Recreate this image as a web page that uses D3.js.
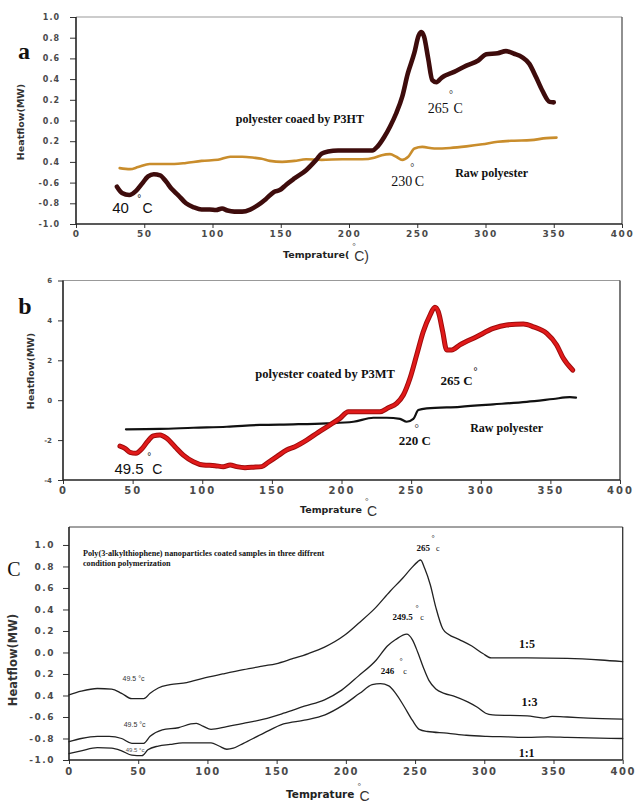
<!DOCTYPE html>
<html>
<head>
<meta charset="utf-8">
<script src="https://cdn.jsdelivr.net/npm/d3@7"></script>
<style>
  body { margin: 0; background: #fff; }
  svg { display: block; }
  .tick text { font-family: "DejaVu Sans", sans-serif; font-weight: bold; fill: #4a4a4a; }
  .serif { font-family: "Liberation Serif", "DejaVu Serif", serif; }
  .sans { font-family: "Liberation Sans", Arial, sans-serif; }
</style>
</head>
<body>
<div class="chart"></div>
<script>
// ---- panel a : P3HT ----
let xTicks = [0, 50, 100, 150, 200, 250, 300, 350, 400];
let xLabels = ['0', '50', '100', '150', '200', '250', '300', '350', '400'];
let aTicks = [1, 0.8, 0.6, 0.4, 0.2, 0, -0.2, -0.4, -0.6, -0.8, -1];
let aLabels = ['1.0', '0.8', '0.6', '0.4', '0.2', '0.0', '0.2', '0.4', '-0.6', '-0.8', '-1.0'];

let aCoated = [[30,-0.64],[33.7,-0.70],[39,-0.72],[44,-0.68],[48.4,-0.61],[52.8,-0.54],[57,-0.52],
  [61.6,-0.53],[66,-0.59],[70,-0.66],[74.8,-0.72],[80.6,-0.80],[86.5,-0.84],[92,-0.86],[98,-0.86],
  [102.6,-0.865],[107,-0.85],[111,-0.87],[116,-0.88],[121.7,-0.88],[127.6,-0.86],[133,-0.82],
  [139,-0.76],[145,-0.69],[149.6,-0.67],[154,-0.62],[160,-0.56],[168.6,-0.48],[176,-0.38],
  [180,-0.32],[184.7,-0.30],[192,-0.29],[201,-0.29],[209.7,-0.29],[217,-0.29],[221,-0.25],
  [225.8,-0.16],[230,-0.06],[234.6,0.07],[239,0.23],[243,0.45],[247.8,0.65],[251,0.82],[253,0.855],
  [255,0.81],[258,0.60],[261,0.39],[264,0.37],[268,0.415],[277,0.47],[286,0.53],[294.7,0.58],
  [300.6,0.64],[309,0.65],[315,0.67],[321,0.645],[327,0.61],[332,0.55],[337,0.42],[341.6,0.29],
  [347,0.18],[350,0.175]];
let aRaw = [[32,-0.46],[39.6,-0.47],[45.5,-0.45],[54,-0.42],[63,-0.42],[72,-0.42],[80.6,-0.41],
  [92,-0.39],[104,-0.38],[113,-0.35],[121.7,-0.35],[130.5,-0.36],[136,-0.37],[142,-0.39],[151,-0.40],
  [160,-0.39],[168.6,-0.375],[180,-0.38],[195,-0.375],[209.7,-0.375],[218.5,-0.36],[224,-0.335],
  [230,-0.325],[234.6,-0.35],[239,-0.38],[243.4,-0.35],[248,-0.27],[253.7,-0.255],[262.5,-0.27],
  [274,-0.265],[286,-0.25],[297.6,-0.23],[309,-0.205],[321,-0.195],[333,-0.19],[344.6,-0.17],
  [352,-0.165]];

// ---- panel b : P3MT ----
let bTicks = [6, 4, 2, 0, -2, -4];
let bLabels = ['6', '4', '2', '0', '-2', '-4'];
let bCoated = [[40.9,-2.30],[44.5,-2.41],[48.1,-2.61],[52.4,-2.66],[56.5,-2.45],[60.6,-2.08],
  [64.9,-1.79],[69.7,-1.74],[74.5,-1.91],[80.4,-2.33],[86.4,-2.75],[93.6,-3.08],[100.8,-3.25],
  [109.2,-3.28],[115.1,-3.33],[120,-3.25],[124.7,-3.33],[130.7,-3.38],[136.7,-3.36],[142.7,-3.33],
  [147.5,-3.11],[153.5,-2.83],[160.6,-2.50],[166.6,-2.33],[175,-2.0],[183.3,-1.61],[191.7,-1.24],
  [198.9,-0.91],[204.9,-0.58],[213.3,-0.58],[227.6,-0.58],[233.6,-0.38],[239.6,-0.16],[244.4,0.26],
  [249.2,1.10],[254,2.27],[258.7,3.43],[263.6,4.27],[267.1,4.66],[269.5,4.44],[272.7,3.43],
  [275.5,2.52],[279.1,2.52],[285,2.77],[297,3.18],[309,3.60],[318.6,3.77],[330.6,3.82],[337.8,3.68],
  [347.4,3.35],[354.5,2.77],[359.3,2.10],[366,1.51]];
let bRaw = [[45.2,-1.46],[69.7,-1.44],[93.6,-1.38],[117.6,-1.33],[141.5,-1.24],[165.4,-1.21],
  [189.4,-1.16],[208.5,-1.08],[222.9,-0.88],[232.5,-0.88],[242,-0.94],[246.8,-1.08],[251.6,-0.94],
  [255.2,-0.49],[261.2,-0.41],[285,-0.33],[309,-0.21],[333,-0.08],[352,0.06],[364,0.15],[368.4,0.13]];

// ---- panel c : three polymerization ratios ----
let cRatio15 = [[0,-0.395],[8.8,-0.36],[20.5,-0.335],[30.8,-0.34],[38,-0.38],[45.4,-0.43],[54,-0.43],
  [58.6,-0.38],[64.5,-0.33],[73,-0.30],[85,-0.28],[96.7,-0.24],[111,-0.20],[126,-0.16],[140.7,-0.125],
  [149.4,-0.105],[161,-0.06],[173,-0.01],[184.6,0.05],[199,0.16],[209,0.27],[221,0.41],[232,0.57],
  [241,0.69],[247,0.78],[252,0.845],[254,0.86],[257,0.78],[261,0.63],[265,0.42],[270,0.22],
  [274,0.17],[282,0.12],[291,0.06],[299,-0.01],[305,-0.05],[331,-0.05],[360,-0.055],[384,-0.07],
  [400,-0.085]];
let cRatio13 = [[0,-0.83],[8.8,-0.80],[20.5,-0.78],[29,-0.78],[38,-0.80],[45.4,-0.845],[54,-0.845],
  [58.6,-0.78],[67.4,-0.72],[79,-0.70],[88,-0.665],[92,-0.66],[96.7,-0.685],[102.6,-0.715],[114,-0.69],
  [126,-0.66],[140.7,-0.62],[155,-0.565],[170,-0.50],[184.6,-0.44],[197,-0.35],[209,-0.22],
  [222,-0.07],[230,0.06],[236,0.12],[244,0.17],[248,0.12],[252,0.0],[256,-0.14],[260,-0.26],
  [265,-0.34],[271,-0.38],[279,-0.41],[288,-0.46],[295,-0.51],[301,-0.565],[306,-0.58],[331,-0.59],
  [343,-0.61],[349,-0.595],[360,-0.60],[375,-0.61],[400,-0.62]];
let cRatio11 = [[0,-0.94],[8.8,-0.915],[20.5,-0.885],[30.8,-0.89],[38,-0.915],[45.4,-0.955],
  [52.7,-0.96],[57,-0.905],[64.5,-0.87],[73,-0.855],[82,-0.84],[91,-0.84],[102.6,-0.84],[108.4,-0.87],
  [114,-0.90],[118.7,-0.89],[126,-0.845],[140.7,-0.75],[155,-0.665],[170,-0.63],[185,-0.58],
  [198,-0.49],[210,-0.38],[219,-0.30],[225,-0.29],[231,-0.31],[236,-0.38],[242,-0.50],[248,-0.63],
  [253,-0.715],[259,-0.735],[273,-0.75],[287,-0.77],[301.8,-0.78],[316.5,-0.785],[331,-0.79],
  [345.8,-0.785],[360,-0.79],[400,-0.80]];

let svg = d3.select('.chart')
  .append('svg')
    .attr('width', 636)
    .attr('height', 803);

function note(g, x, y, text, o) {
  return g.append('text')
    .attr('x', x)
    .attr('y', y)
    .attr('class', o.cls || 'serif')
    .attr('text-anchor', o.anchor || 'middle')
    .style('font-size', o.size + 'px')
    .style('font-weight', o.bold ? 'bold' : 'normal')
    .style('fill', o.fill || '#111')
    .text(text);
}

function panel(o) {
  let x = d3.scaleLinear().domain([0, 400]).range(o.xr);
  let y = d3.scaleLinear().domain(o.yd).range(o.yr);
  let g = svg.append('g');

  // frame: top and right
  g.append('line').attr('x1', x(0)).attr('x2', x(400))
    .attr('y1', y(o.yd[1])).attr('y2', y(o.yd[1]))
    .style('stroke', o.topColor).style('stroke-width', 1);
  g.append('line').attr('x1', x(400)).attr('x2', x(400))
    .attr('y1', y(o.yd[1])).attr('y2', y(o.yd[0]))
    .style('stroke', o.rightColor).style('stroke-width', 1.3);

  let yAxis = d3.axisLeft(y)
    .tickValues(o.yTicks)
    .tickFormat((d, i) => o.yLabels[i])
    .tickSize(o.yTickSize)
    .tickPadding(o.yPad);
  let gy = g.append('g')
    .attr('transform', `translate(${x(0)}, 0)`)
    .call(yAxis);
  gy.select('.domain').remove();
  gy.selectAll('line').style('stroke', '#333');
  gy.selectAll('text').style('font-size', o.yFont + 'px').style('letter-spacing', o.ySpace + 'px');

  let xAxis = d3.axisBottom(x)
    .tickValues(xTicks)
    .tickFormat((d, i) => xLabels[i])
    .tickSize(4)
    .tickPadding(o.xPad);
  let gx = g.append('g')
    .attr('transform', `translate(0, ${y(o.yd[0])})`)
    .call(xAxis);
  gx.select('.domain').remove();
  gx.selectAll('line').style('stroke', '#333');
  gx.selectAll('text').style('font-size', o.xFont + 'px').style('letter-spacing', o.xSpace + 'px');

  // left and bottom axis lines
  g.append('line').attr('x1', x(0)).attr('x2', x(0))
    .attr('y1', y(o.yd[1])).attr('y2', y(o.yd[0]))
    .style('stroke', '#222').style('stroke-width', 1.6);
  g.append('line').attr('x1', x(0)).attr('x2', x(400))
    .attr('y1', y(o.yd[0])).attr('y2', y(o.yd[0]))
    .style('stroke', '#222').style('stroke-width', 1.6);

  let line = d3.line()
    .x(d => x(d[0]))
    .y(d => y(d[1]))
    .curve(d3.curveMonotoneX);

  o.series.forEach(s => {
    g.append('path')
      .datum(s.data)
      .attr('d', line)
      .style('fill', 'none')
      .style('stroke', s.color)
      .style('stroke-width', s.width)
      .style('stroke-linecap', 'round')
      .style('stroke-linejoin', 'round');
  });

  o.notes.forEach(n => note(g, x(n.x), y(n.y), n.text, n));
  return g;
}

// panel a
panel({
  xr: [76, 622], yd: [-1, 1], yr: [224, 17],
  yTicks: aTicks, yLabels: aLabels, yTickSize: 6, yPad: 10, yFont: 8, ySpace: 1,
  xPad: 3, xFont: 9, xSpace: 1.5,
  topColor: '#999', rightColor: '#555',
  series: [
    { data: aRaw, color: '#c98d2c', width: 2.6 },
    { data: aCoated, color: '#3e0c0c', width: 4.6 }
  ],
  notes: [
    { x: 164, y: -0.024, text: 'polyester coaed by P3HT', size: 12, bold: true },
    { x: 265.4, y: 0.072, text: '265', size: 14 },
    { x: 274.8, y: 0.215, text: '°', size: 10 },
    { x: 280, y: 0.072, text: 'C', size: 14 },
    { x: 238.6, y: -0.633, text: '230', size: 14 },
    { x: 246.3, y: -0.49, text: '°', size: 10 },
    { x: 251.6, y: -0.633, text: 'C', size: 14 },
    { x: 304.5, y: -0.546, text: 'Raw polyester', size: 12, bold: true },
    { x: 32.7, y: -0.894, text: '40', size: 15, cls: 'sans' },
    { x: 46.4, y: -0.79, text: '°', size: 10, cls: 'sans' },
    { x: 52.5, y: -0.894, text: 'C', size: 14, cls: 'sans' }
  ]
});

// panel b
panel({
  xr: [63, 620], yd: [-4, 6], yr: [480, 280.5],
  yTicks: bTicks, yLabels: bLabels, yTickSize: 5, yPad: 6, yFont: 7, ySpace: 0,
  xPad: 3, xFont: 10, xSpace: 2,
  topColor: '#999', rightColor: '#333',
  series: [
    { data: bRaw, color: '#111', width: 2.2 },
    { data: bCoated, color: '#9e0c0c', width: 5 },
    { data: bCoated, color: '#e11a1a', width: 3 }
  ],
  notes: [
    { x: 188.2, y: 1.11, text: 'polyester coated by P3MT', size: 12.5, bold: true },
    { x: 282.7, y: 0.76, text: '265 C', size: 13, bold: true },
    { x: 296.2, y: 1.25, text: '°', size: 10, bold: true },
    { x: 252.6, y: -2.25, text: '220 C', size: 13, bold: true },
    { x: 254.0, y: -1.6, text: '°', size: 11 },
    { x: 318.6, y: -1.59, text: 'Raw polyester', size: 12, bold: true },
    { x: 47.4, y: -3.70, text: '49.5', size: 15, cls: 'sans' },
    { x: 62, y: -3.0, text: '°', size: 10, cls: 'sans' },
    { x: 67.8, y: -3.70, text: 'C', size: 14, cls: 'sans' }
  ]
});

// panel c
panel({
  xr: [69, 622.7], yd: [-1, 1.167], yr: [760, 527],
  yTicks: aTicks, yLabels: aLabels, yTickSize: 6, yPad: 8, yFont: 9, ySpace: 1.5,
  xPad: 4, xFont: 10, xSpace: 1.5,
  topColor: '#444', rightColor: '#333',
  series: [
    { data: cRatio15, color: '#222', width: 1.3 },
    { data: cRatio13, color: '#222', width: 1.3 },
    { data: cRatio11, color: '#222', width: 1.3 }
  ],
  notes: [
    { x: 10.1, y: 0.898, text: 'Poly(3-alkylthiophene) nanoparticles coated samples in three diffrent',
      size: 8.2, bold: true, anchor: 'start' },
    { x: 10.1, y: 0.805, text: 'condition polymerization', size: 8.2, bold: true, anchor: 'start' },
    { x: 256, y: 0.94, text: '265', size: 9, bold: true },
    { x: 263, y: 1.04, text: '°', size: 8 },
    { x: 266.5, y: 0.94, text: 'c', size: 8 },
    { x: 241.1, y: 0.30, text: '249.5', size: 9, bold: true },
    { x: 251.4, y: 0.39, text: '°', size: 8 },
    { x: 255, y: 0.30, text: 'c', size: 8 },
    { x: 230.1, y: -0.20, text: '246', size: 9, bold: true },
    { x: 239.9, y: -0.105, text: '°', size: 8 },
    { x: 242.8, y: -0.20, text: 'c', size: 8 },
    { x: 330.9, y: 0.042, text: '1:5', size: 12, bold: true },
    { x: 332.7, y: -0.498, text: '1:3', size: 12, bold: true },
    { x: 330.6, y: -0.972, text: '1:1', size: 12, bold: true },
    { x: 38.7, y: -0.265, text: '49.5 °c', size: 7, cls: 'sans', anchor: 'start', fill: '#333' },
    { x: 39.5, y: -0.693, text: '49.5 °c', size: 7, cls: 'sans', anchor: 'start', fill: '#333' },
    { x: 41, y: -0.921, text: '49.5 °c', size: 6, cls: 'sans', anchor: 'start', fill: '#555' }
  ]
});

// panel letters
note(svg, 24, 59, 'a', { size: 24, bold: true });
note(svg, 25, 314, 'b', { size: 24, bold: true });
note(svg, 14, 576, 'C', { size: 20 });

// y axis titles
[[21, 122, 9.5], [31, 371, 9.5], [13, 660, 11.5]].forEach(p => {
  svg.append('text')
    .attr('transform', `translate(${p[0]}, ${p[1]}) rotate(-90)`)
    .attr('text-anchor', 'middle')
    .attr('dy', '0.35em')
    .style('font-family', '"DejaVu Sans", sans-serif')
    .style('font-weight', 'bold')
    .style('font-size', p[2] + 'px')
    .style('fill', '#333')
    .text('Heatflow(MW)');
});

// x axis titles
function xTitle(x0, yb, open, size) {
  let t = note(svg, x0, yb, open ? 'Temprature(' : 'Temprature',
    { size: size, bold: true, anchor: 'start', fill: '#222' });
  t.style('font-family', '"DejaVu Sans", sans-serif');
  let w = t.node().getComputedTextLength();
  note(svg, x0 + w + 3, yb - 9, '°', { size: 9, anchor: 'start', fill: '#333' });
  note(svg, x0 + w + 5, yb + 3, open ? 'C)' : 'C', { size: 14, anchor: 'start', fill: '#333', cls: 'sans' });
}
xTitle(283, 258, true, 9.5);
xTitle(300, 513, false, 9.5);
xTitle(286, 798, false, 10.5);
</script>
</body>
</html>
